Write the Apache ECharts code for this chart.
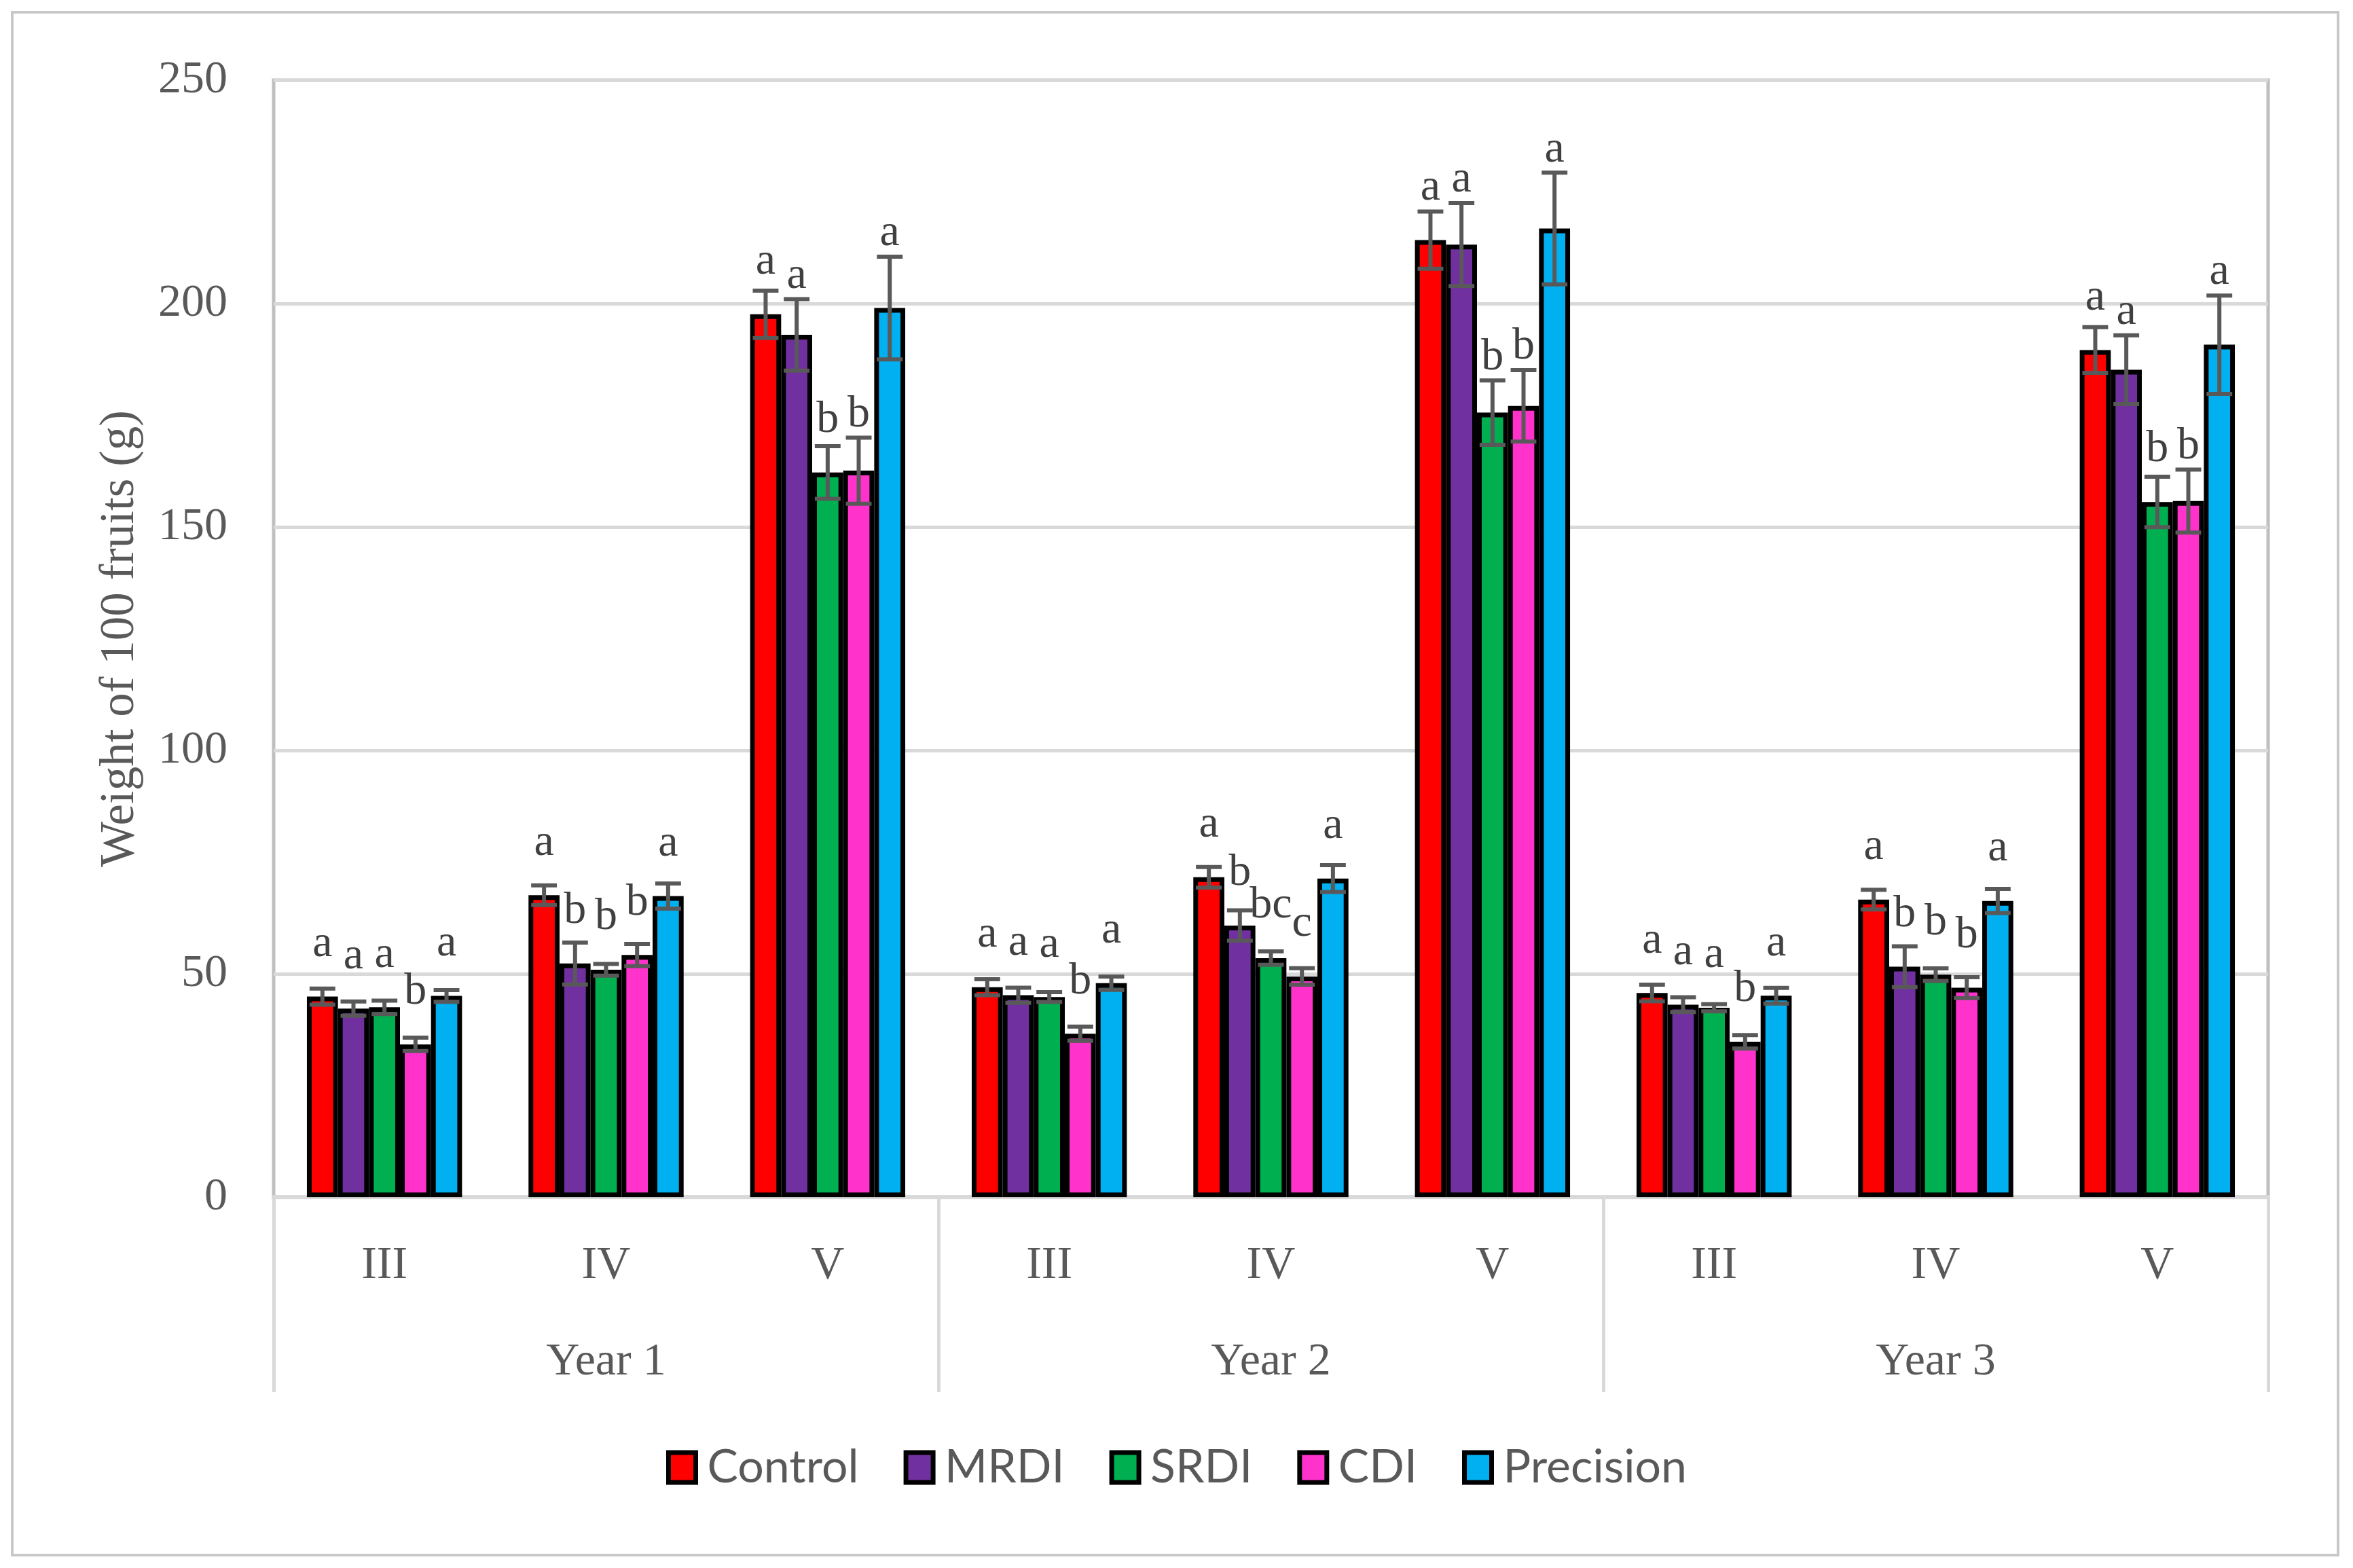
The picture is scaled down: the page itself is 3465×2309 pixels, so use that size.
<!DOCTYPE html>
<html>
<head>
<meta charset="utf-8">
<script src="https://cdn.jsdelivr.net/npm/echarts@6/dist/echarts.min.js"></script>
<style>html,body{margin:0;padding:0;background:#fff;}#chart{width:3465px;height:2309px;}</style>
</head>
<body>
<div id="chart"></div>
<script>
// ---- data ----
var stages = ['III', 'IV', 'V', 'III', 'IV', 'V', 'III', 'IV', 'V'];
var years = ['Year 1', 'Year 2', 'Year 3'];
var seriesNames = ['Control', 'MRDI', 'SRDI', 'CDI', 'Precision'];

var control      = [44.9, 67.6, 197.6, 47.0, 71.6, 214.2, 45.7, 66.6, 189.6];
var controlErr   = [1.8, 2.2, 5.3, 1.8, 2.3, 6.4, 1.85, 2.2, 5.1];
var mrdi         = [42.2, 52.3, 193.0, 45.2, 60.8, 213.2, 43.1, 51.6, 185.2];
var mrdiErr      = [1.6, 4.7, 8.0, 1.7, 3.4, 9.3, 1.65, 4.55, 7.7];
var srdi         = [42.5, 50.9, 162.2, 44.8, 53.5, 175.6, 42.4, 49.8, 155.6];
var srdiErr      = [1.5, 1.3, 5.9, 1.1, 1.5, 7.2, 0.8, 1.4, 5.65];
var cdi          = [34.2, 54.2, 162.6, 36.6, 49.4, 177.1, 34.8, 46.9, 155.8];
var cdiErr       = [1.5, 2.5, 7.4, 1.6, 1.85, 8.0, 1.5, 2.35, 7.05];
var precision    = [45.05, 67.4, 199.0, 47.9, 71.3, 216.8, 45.1, 66.3, 190.8];
var precisionErr = [1.3, 2.8, 11.5, 1.5, 3.0, 12.5, 1.75, 2.7, 11.0];

var controlLetters   = ['a', 'a', 'a', 'a', 'a', 'a', 'a', 'a', 'a'];
var mrdiLetters      = ['a', 'b', 'a', 'a', 'b', 'a', 'a', 'b', 'a'];
var srdiLetters      = ['a', 'b', 'b', 'a', 'bc', 'b', 'a', 'b', 'b'];
var cdiLetters       = ['b', 'b', 'b', 'b', 'c', 'b', 'b', 'b', 'b'];
var precisionLetters = ['a', 'a', 'a', 'a', 'a', 'a', 'a', 'a', 'a'];

var yTicks = { min: 0, max: 250, interval: 50 };

// ---- styling ----
var colors = ['#FF0000', '#7030A0', '#00B050', '#FF33CC', '#00B0F0'];
var values = [control, mrdi, srdi, cdi, precision];
var errors = [controlErr, mrdiErr, srdiErr, cdiErr, precisionErr];
var letters = [controlLetters, mrdiLetters, srdiLetters, cdiLetters, precisionLetters];
var SERIF = '"Liberation Serif", "Times New Roman", serif';
var GAP = 0.30;
var N = seriesNames.length;

var series = [];
seriesNames.forEach(function (name, i) {
  series.push({
    name: name,
    type: 'bar',
    data: values[i],
    barGap: '0%',
    barCategoryGap: (GAP * 100) + '%',
    itemStyle: { color: colors[i], borderColor: '#000000', borderWidth: 7 },
    emphasis: { disabled: true },
    z: 2
  });
});
seriesNames.forEach(function (name, i) {
  var data = values[i].map(function (v, k) { return [k, v, errors[i][k]]; });
  series.push({
    type: 'custom',
    data: data,
    z: 5,
    silent: true,
    encode: { x: 0, y: 1 },
    renderItem: function (params, api) {
      var cat = api.value(0), v = api.value(1), e = api.value(2);
      var band = api.size([1, 0])[0];
      var bw = band * (1 - GAP) / N;
      var x = api.coord([cat, 0])[0] - band * (1 - GAP) / 2 + bw * (i + 0.5);
      var yTop = api.coord([cat, v + e])[1];
      var yBot = api.coord([cat, v - e])[1];
      var yBar = api.coord([cat, v])[1];
      var capW = bw * 0.83;
      var st = { stroke: '#595959', lineWidth: 6 };
      var baseline = Math.min(yBar - 55, yTop - 12);
      return {
        type: 'group',
        children: [
          { type: 'line', shape: { x1: x, y1: yTop, x2: x, y2: yBot }, style: st },
          { type: 'line', shape: { x1: x - capW / 2, y1: yTop, x2: x + capW / 2, y2: yTop }, style: st },
          { type: 'line', shape: { x1: x - capW / 2, y1: yBot, x2: x + capW / 2, y2: yBot }, style: st },
          { type: 'text', x: x, y: baseline - 22,
            style: { text: letters[i][params.dataIndex], fill: '#404040', fontSize: 66,
                     fontFamily: SERIF, align: 'center', verticalAlign: 'middle' } }
        ]
      };
    }
  });
});

var chart = echarts.init(document.getElementById('chart'), null, { renderer: 'canvas' });
chart.setOption({
  animation: false,
  backgroundColor: '#ffffff',
  graphic: [{
    type: 'rect', shape: { x: 18, y: 18, width: 3425, height: 2272 },
    style: { fill: 'none', stroke: '#C8C8C8', lineWidth: 4 }, silent: true, z: -1
  }],
  grid: { left: 403, right: 125, top: 118, bottom: 546, show: true, borderColor: '#BFBFBF', borderWidth: 5, backgroundColor: 'transparent' },
  legend: {
    data: seriesNames,
    top: 2122,
    left: 'center',
    icon: 'rect',
    itemWidth: 40,
    itemHeight: 44,
    itemGap: 66,
    itemStyle: { borderColor: '#000000', borderWidth: 7 },
    textStyle: { fontFamily: 'Lato, "Open Sans", sans-serif', fontSize: 68, color: '#595959', padding: [0, 0, 0, 12] },
    selectedMode: false
  },
  xAxis: [{
    type: 'category',
    data: stages,
    position: 'bottom',
    axisLine: { show: true, lineStyle: { color: '#D9D9D9', width: 6 } },
    axisTick: { show: false },
    axisLabel: { margin: 67, fontFamily: SERIF, fontSize: 68, color: '#595959' },
    splitLine: { show: false }
  }, {
    type: 'category',
    data: years,
    position: 'bottom',
    axisLine: { show: false },
    axisTick: { show: true, length: 287, lineStyle: { color: '#D9D9D9', width: 5 } },
    axisLabel: { margin: 209, fontFamily: SERIF, fontSize: 68, color: '#595959' },
    splitLine: { show: false }
  }],
  yAxis: {
    type: 'value',
    min: yTicks.min, max: yTicks.max, interval: yTicks.interval,
    name: 'Weight of 100 fruits (g)',
    nameLocation: 'middle',
    nameGap: 190,
    nameRotate: 90,
    nameTextStyle: { fontFamily: SERIF, fontSize: 71, color: '#595959' },
    axisLine: { show: false },
    axisTick: { show: false },
    axisLabel: { margin: 68, fontFamily: SERIF, fontSize: 68, color: '#595959' },
    splitLine: { show: true, lineStyle: { color: '#D9D9D9', width: 5 } }
  },
  series: series
});
</script>
</body>
</html>
